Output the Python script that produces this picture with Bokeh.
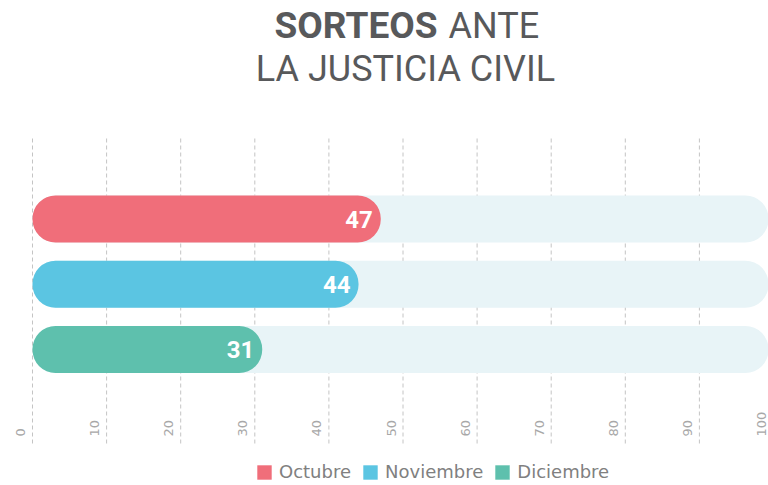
import numpy as np
from bokeh.plotting import figure
from bokeh.models import Range1d, ColumnDataSource, Legend, LegendItem
from bokeh.core.properties import value
from bokeh.embed import file_html
from bokeh.resources import INLINE

# ---- data ----
months = ["Octubre", "Noviembre", "Diciembre"]
counts = [47, 44, 31]
colors = ["#f06e7a", "#5bc5e2", "#5ec0ad"]
ticks = [0, 10, 20, 30, 40, 50, 60, 70, 80, 90, 100]
scale_max = 100
title_bold = "SORTEOS"
title_rest = "ANTE"
title_line2 = "LA JUSTICIA CIVIL"

# ---- layout ----
W, H = 768, 485
X0 = 32      # pixel position of zero
PX = 7.41    # pixels per unit
def dx(img_x):
    return (img_x - X0) / PX

bar_h = 47
radius = 23
y_first, y_step = 218.5, 65.25
ys = [y_first + i * y_step for i in range(len(months))]

p = figure(width=W, height=H, output_backend="svg", toolbar_location=None,
           x_range=Range1d(-X0 / PX, (W - X0) / PX),
           y_range=Range1d(H, 0),
           min_border=0, min_border_left=0, min_border_right=0,
           min_border_top=0, min_border_bottom=0)
p.xaxis.visible = False
p.yaxis.visible = False
p.grid.visible = False
p.outline_line_color = None
p.background_fill_color = "white"
p.border_fill_color = "white"

# grid lines
p.segment(x0=ticks, y0=[138] * len(ticks), x1=ticks, y1=[445] * len(ticks),
          line_color="#c4c4c4", line_width=1, line_dash="4 3")

# tick labels (rotated)
p.text(x=ticks, y=[436] * len(ticks), text=[str(t) for t in ticks],
       angle=np.pi / 2, x_offset=-12, text_align="left", text_baseline="middle",
       text_font=value("DejaVu Sans"), text_font_size="13px", text_color="#a8a8a8")

# tracks
p.hbar(y=ys, left=0, right=[scale_max] * len(ys), height=bar_h,
       fill_color="#e8f4f7", line_color=None, border_radius=radius)

src = ColumnDataSource(dict(y=ys, v=counts, c=colors, m=months,
                            t=[str(v) for v in counts]))
bars = p.hbar(y="y", left=0, right="v", height=bar_h, fill_color="c",
              line_color=None, border_radius=radius, source=src)

p.text(x="v", y="y", text="t", source=src, x_offset=-8,
       text_align="right", text_baseline="middle", text_color="white",
       text_font=value("Roboto"), text_font_style="bold", text_font_size="24px")

# title
p.text(x=[dx(437)], y=[25], text=[title_bold], text_align="right",
       text_baseline="middle", text_font=value("Roboto"),
       text_font_style="bold", text_font_size="37px", text_color="#58595b")
p.text(x=[dx(448)], y=[25], text=[title_rest], text_align="left",
       text_baseline="middle", text_font=value("Roboto"),
       text_font_size="36px", text_color="#58595b")
p.text(x=[dx(405)], y=[68.5], text=[title_line2], text_align="center",
       text_baseline="middle", text_font=value("Roboto"),
       text_font_size="36px", text_color="#58595b")

# legend
items = [LegendItem(label=m, renderers=[bars], index=i) for i, m in enumerate(months)]
legend = Legend(items=items, orientation="horizontal", location=(255, 3),
                glyph_width=18, glyph_height=18, label_standoff=6, spacing=10,
                padding=0, margin=0, border_line_color=None, background_fill_alpha=0,
                label_text_font="DejaVu Sans", label_text_font_size="18px",
                label_text_color="#808080")
p.add_layout(legend)

open("out.html", "w").write(file_html(p, INLINE))
